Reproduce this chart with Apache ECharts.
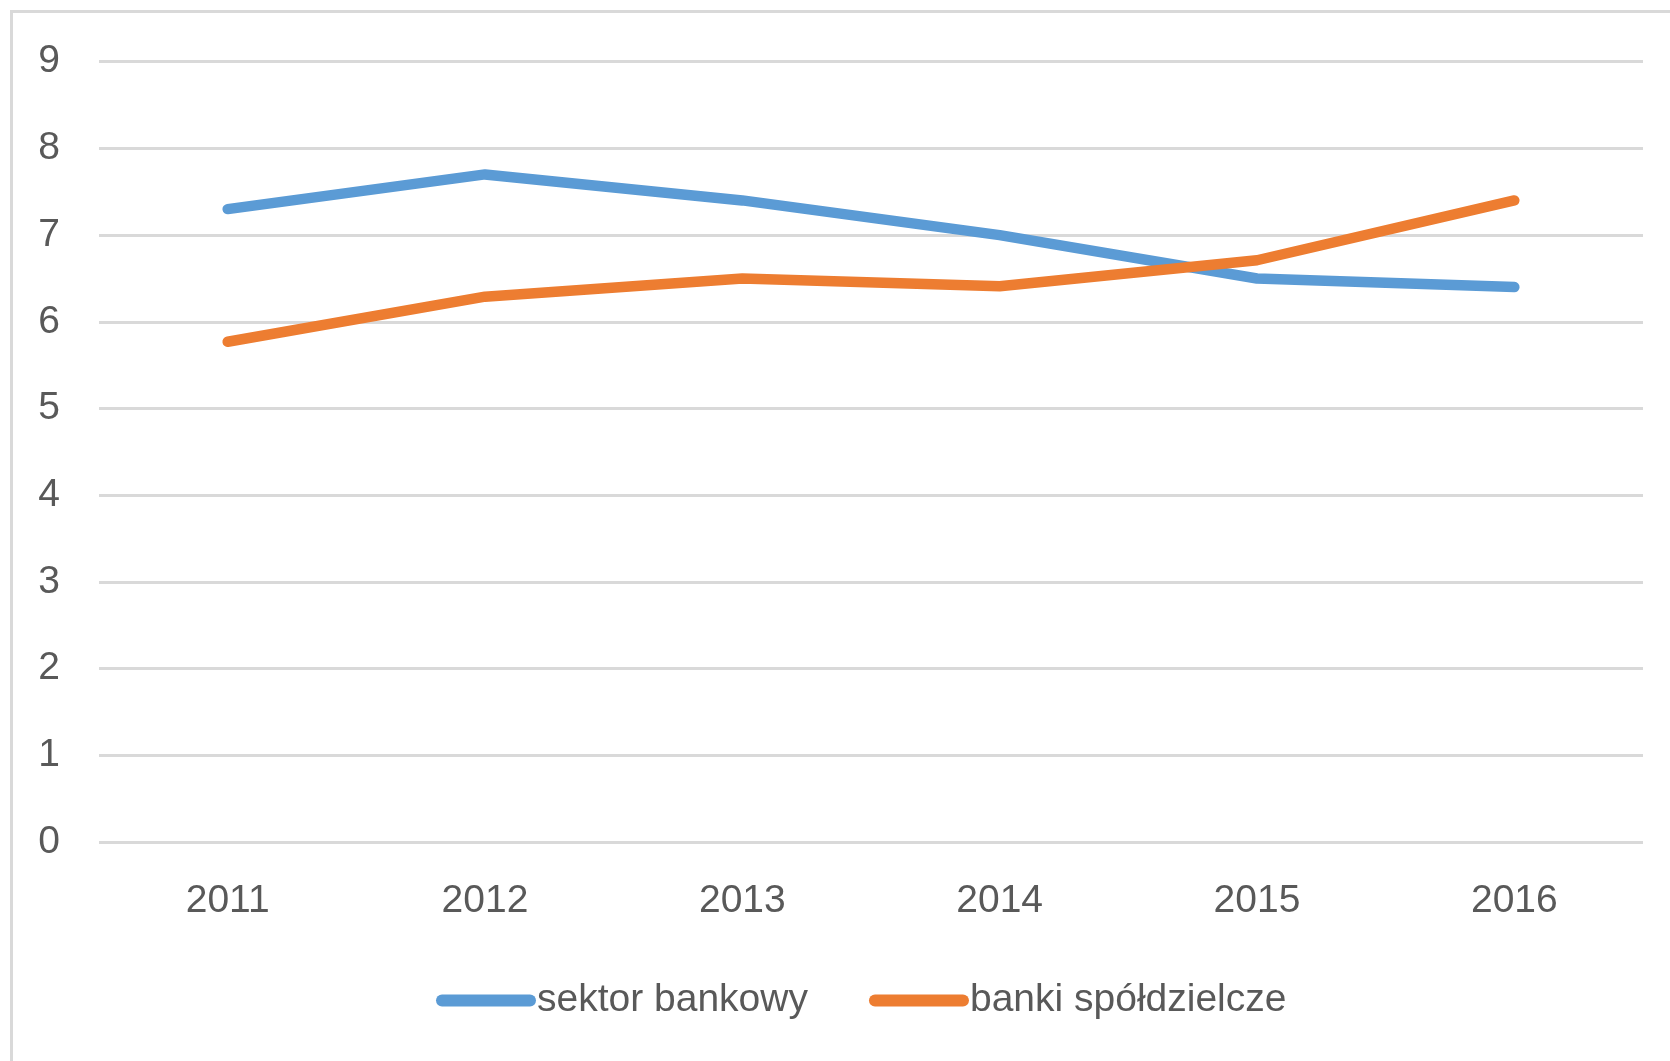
<!DOCTYPE html>
<html><head><meta charset="utf-8">
<script src="https://cdn.jsdelivr.net/npm/echarts@6/dist/echarts.min.js"></script>
<style>html,body{margin:0;padding:0;background:#fff}#c{width:1670px;height:1061px}</style>
</head><body><div id="c"></div>
<script>
const years = ['2011','2012','2013','2014','2015','2016'];
const sektorBankowy = [7.3, 7.7, 7.4, 7.0, 6.5, 6.4];
const bankiSpoldzielcze = [5.77, 6.29, 6.5, 6.41, 6.71, 7.4];
const seriesNames = ['sektor bankowy', 'banki spółdzielcze'];

const FONT = 'Liberation Sans';
const ICON = 'path://M6,0 H94 A6,6 0 0 1 94,12 H6 A6,6 0 0 1 6,0 Z';
const chart = echarts.init(document.getElementById('c'), null, {renderer: 'canvas'});
chart.setOption({
  backgroundColor: '#fff',
  animation: false,
  graphic: [{
    type: 'rect', silent: true, z: -1,
    shape: {x: 11.5, y: 11.5, width: 1720, height: 1120},
    style: {fill: 'none', stroke: '#d9d9d9', lineWidth: 3}
  }],
  grid: {left: 99, right: 27, top: 61.7, bottom: 219, containLabel: false},
  legend: {
    left: 431, top: 976,
    itemWidth: 100, itemHeight: 12, itemGap: 61,
    icon: ICON,
    textStyle: {fontFamily: FONT, fontSize: 39, color: '#595959', padding: [0,0,0,-4]},
    data: seriesNames
  },
  xAxis: {
    type: 'category', data: years, boundaryGap: true,
    axisLine: {show: false}, axisTick: {show: false},
    axisLabel: {fontFamily: FONT, fontSize: 39, color: '#595959', margin: 40}
  },
  yAxis: {
    type: 'value', min: 0, max: 9, interval: 1,
    axisLine: {show: false}, axisTick: {show: false},
    axisLabel: {fontFamily: FONT, fontSize: 39, color: '#595959', margin: 39, padding: [6,0,0,0]},
    splitLine: {lineStyle: {color: '#d9d9d9', width: 3}}
  },
  series: [
    {name: seriesNames[0], type: 'line', data: sektorBankowy, symbol: 'none',
     lineStyle: {color: '#5B9BD5', width: 10.5, cap: 'round', join: 'round'}, itemStyle: {color: '#5B9BD5'}},
    {name: seriesNames[1], type: 'line', data: bankiSpoldzielcze, symbol: 'none',
     lineStyle: {color: '#ED7D31', width: 10.5, cap: 'round', join: 'round'}, itemStyle: {color: '#ED7D31'}}
  ]
});
</script></body></html>
